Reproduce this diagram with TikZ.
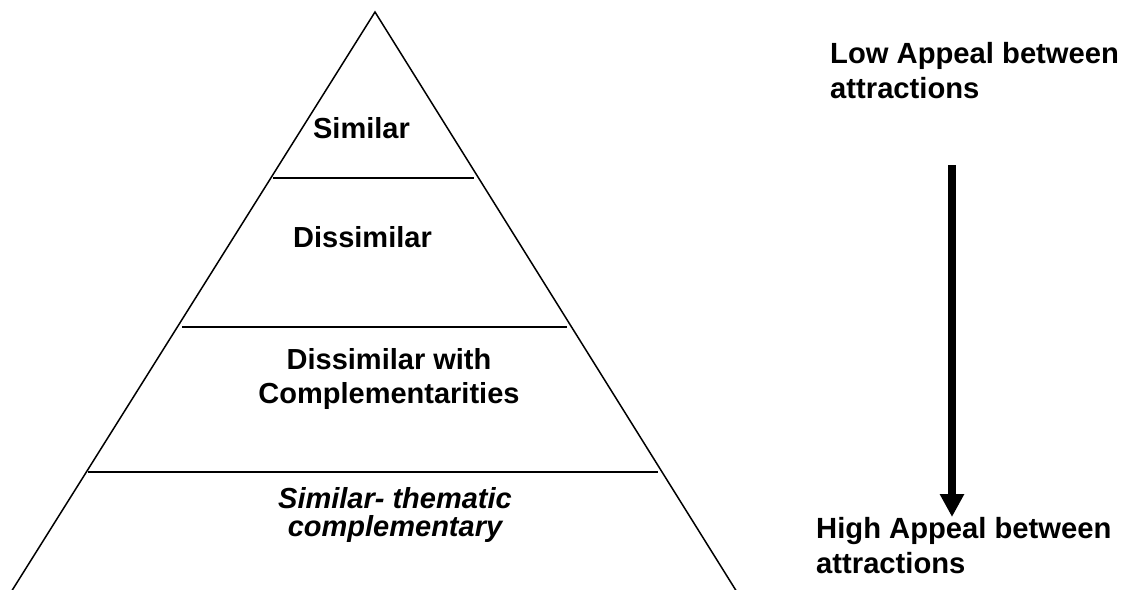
\documentclass[tikz,border=0pt]{standalone}
\usepackage{fontspec}
\setmainfont{Liberation Sans}
\usetikzlibrary{arrows.meta}
\begin{document}
\begin{tikzpicture}[x=1pt,y=-1pt,
  side/.style={line width=1.5pt,line cap=butt},
  divider/.style={line width=2pt},
  lbl/.style={inner sep=0pt,font=\fontsize{29}{34}\selectfont\bfseries,align=center,anchor=base},
  rlbl/.style={inner sep=0pt,font=\fontsize{29.2}{35}\selectfont\bfseries,align=left,anchor=base west},
  bigarrow/.style={line width=8pt,-{Triangle[width=23pt,length=23pt]}}]
\useasboundingbox (0,0) rectangle (1124,589);
% triangle
\coordinate (apex) at (375,12);
\coordinate (bl) at (11.7,591);
\coordinate (br) at (736.3,591);
\draw[side] (bl) -- (apex) -- (br);
% dividers
\coordinate (d1l) at (273,178);   \coordinate (d1r) at (474,178);
\coordinate (d2l) at (182,326.5); \coordinate (d2r) at (567,326.5);
\coordinate (d3l) at (88,472);    \coordinate (d3r) at (658,472);
\draw[divider] (d1l) -- (d1r);
\draw[divider] (d2l) -- (d2r);
\draw[divider] (d3l) -- (d3r);
% labels
\node[lbl] (similar) at (361.5,138) {Similar};
\node[lbl] (dissimilar) at (362.5,247) {Dissimilar};
\node[lbl] (complement) at (389,403) {Dissimilar with\\Complementarities};
\node[lbl,font=\fontsize{29}{28.5}\selectfont\bfseries\itshape] (thematic) at (395,536.5) {Similar- thematic\\complementary};
% right side
\node[rlbl] (low) at (830,98) {Low Appeal between\\attractions};
\node[rlbl] (high) at (816,573) {High Appeal between\\attractions};
\coordinate (astart) at (952,165);
\coordinate (aend) at (952,517);
\draw[bigarrow] (astart) -- (aend);
\end{tikzpicture}
\end{document}
